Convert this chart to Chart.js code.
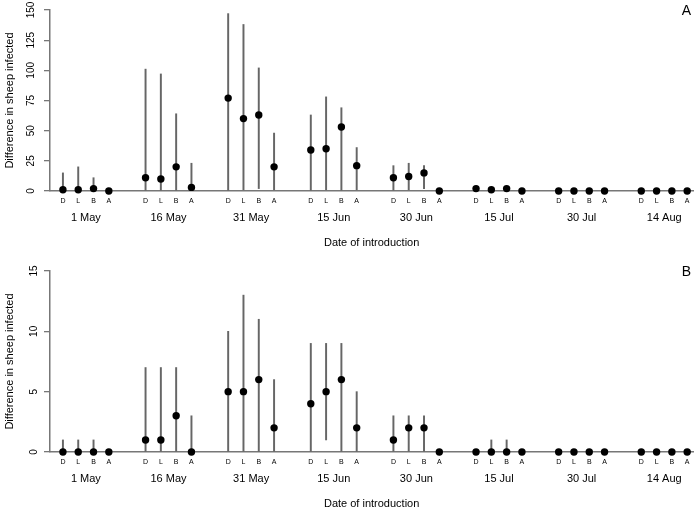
<!DOCTYPE html>
<html>
<head>
<meta charset="utf-8">
<script src="https://cdn.jsdelivr.net/npm/chart.js@4"></script>
<style>
  body { margin: 0; background: #fff; }
  canvas { position: absolute; left: 0; }
  #chartA { top: 0; }
  #chartB { top: 261px; }
</style>
</head>
<body>
<canvas id="chartA" width="697" height="250"></canvas>
<canvas id="chartB" width="697" height="250"></canvas>
<script>
const dates = ['1 May', '16 May', '31 May', '15 Jun', '30 Jun', '15 Jul', '30 Jul', '14 Aug'];
const methods = ['D', 'L', 'B', 'A'];

// panel A: values per date, methods in order D L B A
const medA  = [1, 1, 2, 0,  11, 10, 20, 3,  77, 60, 63, 20,  34, 35, 53, 21,  11, 12, 15, 0,  2, 1, 2, 0,  0, 0, 0, 0,  0, 0, 0, 0];
const lowA  = [0, 0, 0, 0,  0, 0, 0, 0,     0, 1, 2, 1,      0, 1, 0, 1,      0, 1, 2, 0,     0, 0, 0, 0,  0, 0, 0, 0,  0, 0, 0, 0];
const highA = [15, 20, 11, 0,  101, 97, 64, 23,  147, 138, 102, 48,  63, 78, 69, 36,  21, 23, 21, 0,  2, 1, 2, 0,  0, 0, 0, 0,  0, 0, 0, 0];

// panel B
const medB  = [0, 0, 0, 0,  1, 1, 3, 0,  5, 5, 6, 2,  4, 5, 6, 2,  1, 2, 2, 0,  0, 0, 0, 0,  0, 0, 0, 0,  0, 0, 0, 0];
const lowB  = [0, 0, 0, 0,  0, 0, 0, 0,  0, 0, 0, 0,  0, 1, 0, 0,  0, 0, 0, 0,  0, 0, 0, 0,  0, 0, 0, 0,  0, 0, 0, 0];
const highB = [1, 1, 1, 0,  7, 7, 7, 3,  10, 13, 11, 6,  9, 9, 9, 5,  3, 3, 3, 0,  0, 1, 1, 0,  0, 0, 0, 0,  0, 0, 0, 0];

const groupGap = 5.4;
const xPos = [];
dates.forEach((d, g) => methods.forEach((m, i) => xPos.push(g * groupGap + i)));
const groupMid = dates.map((d, g) => g * groupGap + 1.5);

const font = '"Liberation Sans", Arial, sans-serif';

const panelLabel = {
    id: 'panelLabel',
    afterDraw(chart, args, opts) {
        const ctx = chart.ctx;
        ctx.save();
        ctx.font = '14px ' + font;
        ctx.fillStyle = '#000';
        ctx.textAlign = 'center';
        ctx.textBaseline = 'middle';
        ctx.fillText(opts.text, chart.chartArea.right - 7, 11.5);
        ctx.restore();
    }
};

function makeChart(id, med, low, high, yMax, step, letter) {
    const bars = [];
    xPos.forEach((x, i) => {
        if (high[i] > low[i]) bars.push({ x: x, y: [low[i], high[i]] });
    });
    const points = xPos.map((x, i) => ({ x: x, y: med[i] }));

    return new Chart(document.getElementById(id), {
        type: 'scatter',
        data: {
            datasets: [
                {
                    type: 'bar',
                    data: bars,
                    backgroundColor: '#666',
                    borderWidth: 0,
                    barThickness: 1.3,
                    order: 2,
                    clip: false,
                },
                {
                    type: 'scatter',
                    data: points,
                    backgroundColor: '#000',
                    borderWidth: 0,
                    pointRadius: 3.7,
                    pointHoverRadius: 3.7,
                    order: 1,
                    clip: false,
                },
            ],
        },
        options: {
            responsive: false,
            animation: false,
            events: [],
            layout: { padding: { top: 10, left: 0, right: 0, bottom: 0 } },
            scales: {
                x: {
                    type: 'linear',
                    position: 'bottom',
                    min: -0.845,
                    max: 41.2,
                    offset: false,
                    grid: { display: false, drawTicks: false, offset: false },
                    border: { display: true, color: '#777', width: 1.5 },
                    afterBuildTicks: (scale) => { scale.ticks = xPos.map(v => ({ value: v })); },
                    afterFit: (scale) => { scale.height = 18; },
                    ticks: {
                        autoSkip: false,
                        maxRotation: 0,
                        padding: 5.8,
                        color: '#000',
                        font: { family: font, size: 7 },
                        callback: (value, index) => methods[index % 4],
                    },
                },
                x2: {
                    type: 'linear',
                    position: 'bottom',
                    min: -0.845,
                    max: 41.2,
                    offset: false,
                    grid: { display: false, drawTicks: false },
                    border: { display: false },
                    afterBuildTicks: (scale) => { scale.ticks = groupMid.map(v => ({ value: v })); },
                    afterFit: (scale) => { scale.height = 41; },
                    ticks: {
                        autoSkip: false,
                        maxRotation: 0,
                        padding: 2.7,
                        color: '#000',
                        font: { family: font, size: 11 },
                        callback: (value, index) => dates[index],
                    },
                    title: {
                        display: true,
                        text: 'Date of introduction',
                        color: '#000',
                        font: { family: font, size: 11 },
                        padding: { top: 0, bottom: 0.5 },
                    },
                },
                y: {
                    min: 0,
                    max: yMax,
                    grid: { display: true, drawOnChartArea: false, drawTicks: true, tickLength: 6, color: '#777', lineWidth: 1.3 },
                    border: { display: true, color: '#777', width: 1.5 },
                    afterFit: (scale) => { scale.width = 50; },
                    ticks: {
                        stepSize: step,
                        minRotation: 90,
                        maxRotation: 90,
                        crossAlign: 'center',
                        padding: 4,
                        color: '#000',
                        font: { family: font, size: 10 },
                    },
                    title: {
                        display: true,
                        text: 'Difference in sheep infected',
                        color: '#000',
                        font: { family: font, size: 11 },
                        padding: { top: 3.5, bottom: 0 },
                    },
                },
            },
            plugins: {
                legend: { display: false },
                tooltip: { enabled: false },
                panelLabel: { text: letter },
            },
        },
        plugins: [panelLabel],
    });
}

makeChart('chartA', medA, lowA, highA, 150, 25, 'A');
makeChart('chartB', medB, lowB, highB, 15, 5, 'B');
</script>
</body>
</html>
